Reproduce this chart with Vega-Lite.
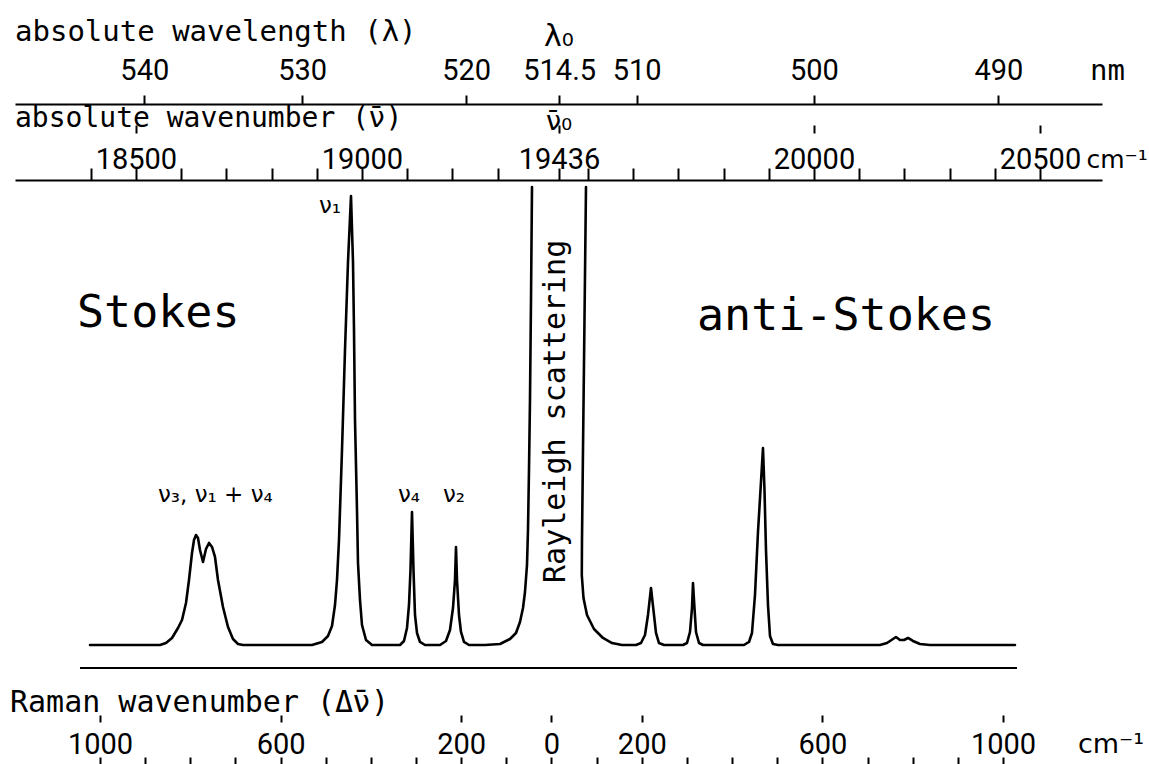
{
  "$schema": "https://vega.github.io/schema/vega-lite/v6.json",
  "width": 1087,
  "height": 577,
  "autosize": {"type": "none"},
  "padding": {"left": 15, "top": 180, "right": 47, "bottom": 7},
  "background": "white",
  "config": {
    "view": {"stroke": null},
    "axis": {"grid": false, "tickColor": "black", "domainColor": "black", "labelColor": "black", "tickWidth": 2, "domainWidth": 2}
  },
  "datasets": {
    "spectrum": [
      {"seg": "L", "i": 1, "s": -1022.15, "I": 0},
      {"seg": "L", "i": 2, "s": -867.11, "I": 0},
      {"seg": "L", "i": 3, "s": -853.82, "I": 0.44},
      {"seg": "L", "i": 4, "s": -840.53, "I": 1.56},
      {"seg": "L", "i": 5, "s": -827.24, "I": 3.78},
      {"seg": "L", "i": 6, "s": -818.38, "I": 5.56},
      {"seg": "L", "i": 7, "s": -809.52, "I": 9.33},
      {"seg": "L", "i": 8, "s": -802.88, "I": 14.44},
      {"seg": "L", "i": 9, "s": -796.23, "I": 20.44},
      {"seg": "L", "i": 10, "s": -791.8, "I": 23.33},
      {"seg": "L", "i": 11, "s": -787.38, "I": 24.44},
      {"seg": "L", "i": 12, "s": -782.95, "I": 23.78},
      {"seg": "L", "i": 13, "s": -778.52, "I": 21.11},
      {"seg": "L", "i": 14, "s": -771.87, "I": 18.44},
      {"seg": "L", "i": 15, "s": -765.23, "I": 21.33},
      {"seg": "L", "i": 16, "s": -758.58, "I": 22.67},
      {"seg": "L", "i": 17, "s": -751.94, "I": 21.78},
      {"seg": "L", "i": 18, "s": -745.29, "I": 19.56},
      {"seg": "L", "i": 19, "s": -738.65, "I": 14.44},
      {"seg": "L", "i": 20, "s": -727.58, "I": 8.44},
      {"seg": "L", "i": 21, "s": -716.5, "I": 4.0},
      {"seg": "L", "i": 22, "s": -705.43, "I": 1.33},
      {"seg": "L", "i": 23, "s": -694.35, "I": 0.22},
      {"seg": "L", "i": 24, "s": -683.28, "I": 0},
      {"seg": "L", "i": 25, "s": -530.45, "I": 0},
      {"seg": "L", "i": 26, "s": -508.31, "I": 0.67},
      {"seg": "L", "i": 27, "s": -495.02, "I": 2.0},
      {"seg": "L", "i": 28, "s": -486.15, "I": 4.22},
      {"seg": "L", "i": 29, "s": -479.51, "I": 8.89},
      {"seg": "L", "i": 30, "s": -475.08, "I": 14.44},
      {"seg": "L", "i": 31, "s": -470.65, "I": 23.33},
      {"seg": "L", "i": 32, "s": -464.0, "I": 43.33},
      {"seg": "L", "i": 33, "s": -457.36, "I": 65.56},
      {"seg": "L", "i": 34, "s": -450.71, "I": 85.11},
      {"seg": "L", "i": 35, "s": -444.07, "I": 99.78},
      {"seg": "L", "i": 36, "s": -439.64, "I": 85.11},
      {"seg": "L", "i": 37, "s": -437.42, "I": 70.0},
      {"seg": "L", "i": 38, "s": -435.2, "I": 50.0},
      {"seg": "L", "i": 39, "s": -430.79, "I": 30.0},
      {"seg": "L", "i": 40, "s": -428.57, "I": 18.22},
      {"seg": "L", "i": 41, "s": -424.14, "I": 10.0},
      {"seg": "L", "i": 42, "s": -419.71, "I": 4.44},
      {"seg": "L", "i": 43, "s": -410.85, "I": 1.11},
      {"seg": "L", "i": 44, "s": -397.56, "I": 0},
      {"seg": "L", "i": 45, "s": -335.55, "I": 0},
      {"seg": "L", "i": 46, "s": -326.69, "I": 0.89},
      {"seg": "L", "i": 47, "s": -320.04, "I": 3.78},
      {"seg": "L", "i": 48, "s": -315.61, "I": 8.89},
      {"seg": "L", "i": 49, "s": -312.29, "I": 16.67},
      {"seg": "L", "i": 50, "s": -308.97, "I": 29.56},
      {"seg": "L", "i": 51, "s": -305.65, "I": 16.67},
      {"seg": "L", "i": 52, "s": -302.33, "I": 6.67},
      {"seg": "L", "i": 53, "s": -297.9, "I": 2.67},
      {"seg": "L", "i": 54, "s": -291.25, "I": 0.67},
      {"seg": "L", "i": 55, "s": -280.18, "I": 0},
      {"seg": "L", "i": 56, "s": -246.95, "I": 0},
      {"seg": "L", "i": 57, "s": -233.66, "I": 0.89},
      {"seg": "L", "i": 58, "s": -224.81, "I": 3.33},
      {"seg": "L", "i": 59, "s": -218.16, "I": 8.22},
      {"seg": "L", "i": 60, "s": -213.73, "I": 14.44},
      {"seg": "L", "i": 61, "s": -211.52, "I": 21.78},
      {"seg": "L", "i": 62, "s": -209.3, "I": 14.44},
      {"seg": "L", "i": 63, "s": -204.87, "I": 6.67},
      {"seg": "L", "i": 64, "s": -200.44, "I": 2.89},
      {"seg": "L", "i": 65, "s": -193.8, "I": 0.67},
      {"seg": "L", "i": 66, "s": -182.72, "I": 0},
      {"seg": "L", "i": 67, "s": -147.29, "I": 0},
      {"seg": "L", "i": 68, "s": -114.06, "I": 0.22},
      {"seg": "L", "i": 69, "s": -91.92, "I": 1.33},
      {"seg": "L", "i": 70, "s": -78.63, "I": 2.67},
      {"seg": "L", "i": 71, "s": -69.77, "I": 5.11},
      {"seg": "L", "i": 72, "s": -63.12, "I": 8.22},
      {"seg": "L", "i": 73, "s": -58.69, "I": 11.78},
      {"seg": "L", "i": 74, "s": -54.26, "I": 17.78},
      {"seg": "L", "i": 75, "s": -52.05, "I": 25.56},
      {"seg": "L", "i": 76, "s": -49.83, "I": 38.89},
      {"seg": "L", "i": 77, "s": -47.62, "I": 54.44},
      {"seg": "L", "i": 78, "s": -45.4, "I": 76.67},
      {"seg": "L", "i": 79, "s": -43.19, "I": 101.78},
      {"seg": "R", "i": 80, "s": 76.41, "I": 101.78},
      {"seg": "R", "i": 81, "s": 73.09, "I": 72.22},
      {"seg": "R", "i": 82, "s": 69.77, "I": 43.33},
      {"seg": "R", "i": 83, "s": 67.55, "I": 23.33},
      {"seg": "R", "i": 84, "s": 67.11, "I": 15.56},
      {"seg": "R", "i": 85, "s": 70.87, "I": 10.44},
      {"seg": "R", "i": 86, "s": 78.63, "I": 6.67},
      {"seg": "R", "i": 87, "s": 94.13, "I": 3.56},
      {"seg": "R", "i": 88, "s": 114.06, "I": 1.56},
      {"seg": "R", "i": 89, "s": 134.0, "I": 0.44},
      {"seg": "R", "i": 90, "s": 156.15, "I": 0},
      {"seg": "R", "i": 91, "s": 187.15, "I": 0},
      {"seg": "R", "i": 92, "s": 198.23, "I": 0.44},
      {"seg": "R", "i": 93, "s": 207.09, "I": 2.22},
      {"seg": "R", "i": 94, "s": 213.73, "I": 6.67},
      {"seg": "R", "i": 95, "s": 220.38, "I": 12.67},
      {"seg": "R", "i": 96, "s": 227.02, "I": 6.67},
      {"seg": "R", "i": 97, "s": 231.45, "I": 2.67},
      {"seg": "R", "i": 98, "s": 238.1, "I": 0.44},
      {"seg": "R", "i": 99, "s": 249.17, "I": 0},
      {"seg": "R", "i": 100, "s": 291.25, "I": 0},
      {"seg": "R", "i": 101, "s": 300.11, "I": 0.44},
      {"seg": "R", "i": 102, "s": 306.75, "I": 2.89},
      {"seg": "R", "i": 103, "s": 311.19, "I": 8.22},
      {"seg": "R", "i": 104, "s": 313.4, "I": 13.78},
      {"seg": "R", "i": 105, "s": 316.72, "I": 8.22},
      {"seg": "R", "i": 106, "s": 320.04, "I": 2.89},
      {"seg": "R", "i": 107, "s": 326.69, "I": 0.44},
      {"seg": "R", "i": 108, "s": 335.55, "I": 0},
      {"seg": "R", "i": 109, "s": 426.36, "I": 0},
      {"seg": "R", "i": 110, "s": 437.43, "I": 0.67},
      {"seg": "R", "i": 111, "s": 444.07, "I": 2.67},
      {"seg": "R", "i": 112, "s": 450.72, "I": 11.11},
      {"seg": "R", "i": 113, "s": 457.36, "I": 25.11},
      {"seg": "R", "i": 114, "s": 464.0, "I": 36.22},
      {"seg": "R", "i": 115, "s": 468.43, "I": 43.78},
      {"seg": "R", "i": 116, "s": 471.76, "I": 34.44},
      {"seg": "R", "i": 117, "s": 475.08, "I": 21.11},
      {"seg": "R", "i": 118, "s": 479.51, "I": 8.89},
      {"seg": "R", "i": 119, "s": 483.94, "I": 2.0},
      {"seg": "R", "i": 120, "s": 490.58, "I": 0.22},
      {"seg": "R", "i": 121, "s": 501.66, "I": 0},
      {"seg": "R", "i": 122, "s": 727.58, "I": 0},
      {"seg": "R", "i": 123, "s": 743.08, "I": 0.44},
      {"seg": "R", "i": 124, "s": 756.36, "I": 1.33},
      {"seg": "R", "i": 125, "s": 763.01, "I": 1.78},
      {"seg": "R", "i": 126, "s": 771.87, "I": 1.11},
      {"seg": "R", "i": 127, "s": 780.73, "I": 1.11},
      {"seg": "R", "i": 128, "s": 789.59, "I": 1.56},
      {"seg": "R", "i": 129, "s": 800.66, "I": 0.89},
      {"seg": "R", "i": 130, "s": 816.17, "I": 0.22},
      {"seg": "R", "i": 131, "s": 838.32, "I": 0},
      {"seg": "R", "i": 132, "s": 1026.58, "I": 0}
    ]
  },
  "resolve": {"scale": {"x": "independent"}, "axis": {"x": "independent"}},
  "layer": [
    {
      "data": {"name": "spectrum"},
      "mark": {"type": "line", "color": "black", "strokeWidth": 2.6, "strokeJoin": "round", "strokeCap": "round"},
      "encoding": {
        "x": {
          "field": "s", "type": "quantitative",
          "scale": {"domain": [-1188.26, 1219.31], "nice": false, "zero": false},
          "axis": {
            "orient": "bottom",
            "values": [-1000, -900, -800, -700, -600, -500, -400, -300, -200, -100, 0, 100, 200, 300, 400, 500, 600, 700, 800, 900, 1000],
            "labelExpr": "(datum.value == 0 || (abs(datum.value) + 200) % 400 == 0) ? format(abs(datum.value), 'd') : ''",
            "domain": false, "ticks": true, "tickSize": 10,
            "labelPadding": -14, "labelBaseline": "alphabetic",
            "labelFont": "Liberation Sans Narrow, Roboto", "labelFontSize": 29,
            "labelOverlap": false, "labelFlush": false, "title": null
          }
        },
        "y": {"field": "I", "type": "quantitative", "scale": {"domain": [-24.89, 103.33], "nice": false, "zero": false}, "axis": null},
        "detail": {"field": "seg"},
        "order": {"field": "i"}
      }
    },
    {
      "data": {"values": [{"s1": -1044.3, "s2": 1031.0, "I": -5.11}]},
      "mark": {"type": "rule", "color": "black", "strokeWidth": 2},
      "encoding": {
        "x": {
          "field": "s1", "type": "quantitative",
          "scale": {"domain": [-1188.26, 1219.31], "nice": false, "zero": false},
          "axis": {
            "orient": "bottom", "offset": -42,
            "values": [-1000, -600, -200, 0, 200, 600, 1000],
            "labels": false, "domain": false, "ticks": true, "tickSize": 7, "title": null
          }
        },
        "x2": {"field": "s2"},
        "y": {"field": "I", "type": "quantitative", "scale": {"domain": [-24.89, 103.33], "nice": false, "zero": false}, "axis": null}
      }
    },
    {
      "data": {"values": [
        {"label": "Raman wavenumber (Δ", "s": -1199.34, "I": -14.89},
        {"label": ")", "s": -400.0, "I": -14.89}
      ]},
      "mark": {"type": "text", "font": "DejaVu Sans Mono", "fontSize": 30, "align": "left", "baseline": "alphabetic", "color": "black"},
      "encoding": {
        "x": {"field": "s", "type": "quantitative", "scale": {"domain": [-1188.26, 1219.31], "nice": false, "zero": false}, "axis": null},
        "y": {"field": "I", "type": "quantitative", "scale": {"domain": [-24.89, 103.33], "nice": false, "zero": false}, "axis": null},
        "text": {"field": "label"}
      }
    },
    {
      "data": {"values": [
        {"label": "ν̄", "s": -439.4, "I": -14.89}
      ]},
      "mark": {"type": "text", "font": "DejaVu Sans", "fontSize": 30, "align": "left", "baseline": "alphabetic", "color": "black"},
      "encoding": {
        "x": {"field": "s", "type": "quantitative", "scale": {"domain": [-1188.26, 1219.31], "nice": false, "zero": false}, "axis": null},
        "y": {"field": "I", "type": "quantitative", "scale": {"domain": [-24.89, 103.33], "nice": false, "zero": false}, "axis": null},
        "text": {"field": "label"}
      }
    },
    {
      "data": {"values": [
        {"label": "cm⁻¹", "s": 1166.1, "I": -24.0}
      ]},
      "mark": {"type": "text", "font": "DejaVu Sans", "fontSize": 27, "align": "left", "baseline": "alphabetic", "color": "black"},
      "encoding": {
        "x": {"field": "s", "type": "quantitative", "scale": {"domain": [-1188.26, 1219.31], "nice": false, "zero": false}, "axis": null},
        "y": {"field": "I", "type": "quantitative", "scale": {"domain": [-24.89, 103.33], "nice": false, "zero": false}, "axis": null},
        "text": {"field": "label"}
      }
    },
    {
      "data": {"values": [{"label": "Rayleigh scattering", "s": 29.9, "I": 13.78}]},
      "mark": {"type": "text", "font": "DejaVu Sans Mono", "fontSize": 30, "align": "left", "baseline": "alphabetic", "angle": 270, "color": "black"},
      "encoding": {
        "x": {"field": "s", "type": "quantitative", "scale": {"domain": [-1188.26, 1219.31], "nice": false, "zero": false}, "axis": null},
        "y": {"field": "I", "type": "quantitative", "scale": {"domain": [-24.89, 103.33], "nice": false, "zero": false}, "axis": null},
        "text": {"field": "label"}
      }
    },
    {
      "data": {"values": [
        {"label": "Stokes", "s": -1050.94, "I": 70.67},
        {"label": "anti-Stokes", "s": 322.26, "I": 70.0}
      ]},
      "mark": {"type": "text", "font": "DejaVu Sans Mono", "fontSize": 45, "align": "left", "baseline": "alphabetic", "color": "black"},
      "encoding": {
        "x": {"field": "s", "type": "quantitative", "scale": {"domain": [-1188.26, 1219.31], "nice": false, "zero": false}, "axis": null},
        "y": {"field": "I", "type": "quantitative", "scale": {"domain": [-24.89, 103.33], "nice": false, "zero": false}, "axis": null},
        "text": {"field": "label"}
      }
    },
    {
      "data": {"values": [
        {"label": "ν₁", "s": -514.95, "I": 96.0},
        {"label": "ν₃, ν₁ + ν₄", "s": -871.54, "I": 31.78},
        {"label": "ν₄", "s": -339.98, "I": 31.78},
        {"label": "ν₂", "s": -240.31, "I": 31.78}
      ]},
      "mark": {"type": "text", "font": "DejaVu Sans", "fontSize": 23, "align": "left", "baseline": "alphabetic", "color": "black"},
      "encoding": {
        "x": {"field": "s", "type": "quantitative", "scale": {"domain": [-1188.26, 1219.31], "nice": false, "zero": false}, "axis": null},
        "y": {"field": "I", "type": "quantitative", "scale": {"domain": [-24.89, 103.33], "nice": false, "zero": false}, "axis": null},
        "text": {"field": "label"}
      }
    },
    {
      "data": {"values": [{"label": "λ₀", "nu": 19436, "I": 133.1}]},
      "mark": {"type": "text", "font": "DejaVu Sans", "fontSize": 30, "align": "center", "baseline": "alphabetic", "color": "black"},
      "encoding": {
        "x": {
          "field": "nu", "type": "quantitative",
          "scale": {"domain": [18232.5, 20637.3], "nice": false, "zero": false},
          "axis": {
            "orient": "top", "offset": 76,
            "values": [18518.52, 18867.92, 19230.77, 19436.35, 19607.84, 20000, 20408.16],
            "labelExpr": "abs(datum.value - 19436.35) < 1 ? '514.5' : format(10000000 / datum.value, '.0f')",
            "domain": true, "ticks": true, "tickSize": 9,
            "labelPadding": 16, "labelBaseline": "alphabetic",
            "labelFont": "Liberation Sans Narrow, Roboto", "labelFontSize": 29,
            "labelOverlap": false, "labelFlush": false, "title": null
          }
        },
        "y": {"field": "I", "type": "quantitative", "scale": {"domain": [-24.89, 103.33], "nice": false, "zero": false}, "axis": null},
        "text": {"field": "label"}
      }
    },
    {
      "data": {"values": [{"label": "ν̄₀", "nu": 19436, "I": 114.5}]},
      "mark": {"type": "text", "font": "DejaVu Sans", "fontSize": 27, "align": "center", "baseline": "alphabetic", "color": "black"},
      "encoding": {
        "x": {
          "field": "nu", "type": "quantitative",
          "scale": {"domain": [18232.5, 20637.3], "nice": false, "zero": false},
          "axis": {
            "orient": "top", "offset": 0,
            "values": [18400, 18500, 18600, 18700, 18800, 18900, 19000, 19100, 19200, 19300, 19436, 19500, 19600, 19700, 19800, 19900, 20000, 20100, 20200, 20300, 20400, 20500],
            "labelExpr": "(datum.value == 19436 || (datum.value % 500 == 0 && datum.value != 19500)) ? format(datum.value, 'd') : ''",
            "domain": true, "ticks": true, "tickSize": 12,
            "labelPadding": 0, "labelBaseline": "alphabetic",
            "labelFont": "Liberation Sans Narrow, Roboto", "labelFontSize": 29,
            "labelOverlap": false, "labelFlush": false, "title": null
          }
        },
        "y": {"field": "I", "type": "quantitative", "scale": {"domain": [-24.89, 103.33], "nice": false, "zero": false}, "axis": null},
        "text": {"field": "label"}
      }
    },
    {
      "data": {"values": [
        {"label": "absolute wavelength (λ)", "nu": 18232.5, "I": 134.22},
        {"label": "nm", "nu": 20610.8, "I": 125.56}
      ]},
      "mark": {"type": "text", "font": "DejaVu Sans Mono", "fontSize": 29, "align": "left", "baseline": "alphabetic", "color": "black"},
      "encoding": {
        "x": {
          "field": "nu", "type": "quantitative",
          "scale": {"domain": [18232.5, 20637.3], "nice": false, "zero": false},
          "axis": {
            "orient": "top", "offset": 47,
            "values": [18500, 19436, 20000, 20500],
            "labels": false, "domain": false, "ticks": true, "tickSize": 8, "title": null
          }
        },
        "y": {"field": "I", "type": "quantitative", "scale": {"domain": [-24.89, 103.33], "nice": false, "zero": false}, "axis": null},
        "text": {"field": "label"}
      }
    },
    {
      "data": {"values": [
        {"label": "absolute wavenumber (", "nu": 18232.5, "I": 115.1},
        {"label": ")", "nu": 19052.4, "I": 115.1}
      ]},
      "mark": {"type": "text", "font": "DejaVu Sans Mono", "fontSize": 28, "align": "left", "baseline": "alphabetic", "color": "black"},
      "encoding": {
        "x": {"field": "nu", "type": "quantitative", "scale": {"domain": [18232.5, 20637.3], "nice": false, "zero": false}, "axis": null},
        "y": {"field": "I", "type": "quantitative", "scale": {"domain": [-24.89, 103.33], "nice": false, "zero": false}, "axis": null},
        "text": {"field": "label"}
      }
    },
    {
      "data": {"values": [
        {"label": "ν̄", "nu": 19015.7, "I": 115.1}
      ]},
      "mark": {"type": "text", "font": "DejaVu Sans", "fontSize": 28, "align": "left", "baseline": "alphabetic", "color": "black"},
      "encoding": {
        "x": {"field": "nu", "type": "quantitative", "scale": {"domain": [18232.5, 20637.3], "nice": false, "zero": false}, "axis": null},
        "y": {"field": "I", "type": "quantitative", "scale": {"domain": [-24.89, 103.33], "nice": false, "zero": false}, "axis": null},
        "text": {"field": "label"}
      }
    },
    {
      "data": {"values": [
        {"label": "cm⁻¹", "nu": 20603.0, "I": 106.0}
      ]},
      "mark": {"type": "text", "font": "DejaVu Sans", "fontSize": 25, "align": "left", "baseline": "alphabetic", "color": "black"},
      "encoding": {
        "x": {"field": "nu", "type": "quantitative", "scale": {"domain": [18232.5, 20637.3], "nice": false, "zero": false}, "axis": null},
        "y": {"field": "I", "type": "quantitative", "scale": {"domain": [-24.89, 103.33], "nice": false, "zero": false}, "axis": null},
        "text": {"field": "label"}
      }
    }
  ]
}
